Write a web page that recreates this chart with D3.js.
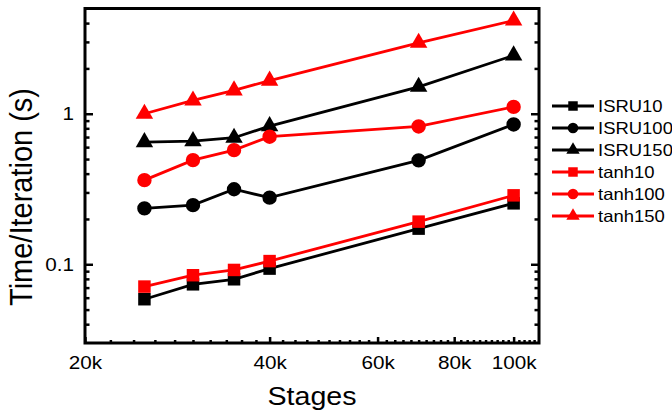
<!DOCTYPE html>
<html>
<head>
<meta charset="utf-8">
<script src="https://cdn.jsdelivr.net/npm/d3@7"></script>
<style>
  body { margin: 0; background: #fff; }
  svg text { font-family: "Liberation Sans", Arial, sans-serif; fill: #000; }
</style>
</head>
<body>
<div id="chart"></div>
<script>
// Stages (x) shared by every series
var stages = [25000, 30000, 35000, 40000, 70000, 100000];

// Time per iteration (s)
var isru10  = [0.0586, 0.0736, 0.0795, 0.0936, 0.1725, 0.254];
var isru100 = [0.235, 0.247, 0.315, 0.277, 0.49, 0.849];
var isru150 = [0.648, 0.658, 0.693, 0.827, 1.51, 2.44];
var tanh10  = [0.0711, 0.0846, 0.0917, 0.105, 0.192, 0.287];
var tanh100 = [0.362, 0.492, 0.573, 0.704, 0.823, 1.11];
var tanh150 = [1.0, 1.225, 1.43, 1.66, 2.96, 4.16];

var seriesNames = ["ISRU10", "ISRU100", "ISRU150", "tanh10", "tanh100", "tanh150"];

// Tick values
var xMajorTicks = [20000, 40000, 60000, 80000, 100000];
var xTickLabels = ["20k", "40k", "60k", "80k", "100k"];
var xMinorTicks = [22000, 24000, 26000, 28000, 30000, 32000, 34000, 36000, 38000,
                   42000, 44000, 46000, 48000, 50000, 52000, 54000, 56000, 58000,
                   62000, 64000, 66000, 68000, 70000, 72000, 74000, 76000, 78000,
                   82000, 84000, 86000, 88000, 90000, 92000, 94000, 96000, 98000,
                   102000, 104000, 106000, 108000];
var yMajorTicks = [0.1, 1];
var yTickLabels = ["0.1", "1"];
var yMinorTicks = [0.04, 0.05, 0.06, 0.07, 0.08, 0.09,
                   0.2, 0.3, 0.4, 0.5, 0.6, 0.7, 0.8, 0.9,
                   2, 3, 4];

var series = [
    {name: seriesNames[0], values: isru10,  color: "#000", shape: "square"},
    {name: seriesNames[1], values: isru100, color: "#000", shape: "circle"},
    {name: seriesNames[2], values: isru150, color: "#000", shape: "triangle"},
    {name: seriesNames[3], values: tanh10,  color: "#f00", shape: "square"},
    {name: seriesNames[4], values: tanh100, color: "#f00", shape: "circle"},
    {name: seriesNames[5], values: tanh150, color: "#f00", shape: "triangle"}
];

var width = 672, height = 415;
var plot = {left: 85, right: 539, top: 8.5, bottom: 343};

var x = d3.scaleLog().domain([20000, 110000]).range([plot.left, plot.right]);
var y = d3.scaleLog().domain([0.03, 5]).range([plot.bottom, plot.top]);

var svg = d3.select("#chart").append("svg")
    .attr("width", width)
    .attr("height", height);

// Marker shapes (big in the plot, small in the legend)
var symbolType = {square: d3.symbolSquare, circle: d3.symbolCircle, triangle: d3.symbolTriangle};
var plotSize = {square: 156, circle: 163, triangle: 132};
var legendSize = {square: 90, circle: 88, triangle: 78};

// Axes: ticks point inwards, no domain path (frame drawn separately)
function styleAxis(g) {
    g.select(".domain").remove();
    g.selectAll("line").attr("stroke", "#000").attr("stroke-width", 2.5);
}

svg.append("g")
    .attr("transform", "translate(" + plot.left + ",0)")
    .call(d3.axisLeft(y).tickValues(yMinorTicks).tickSize(-4.5).tickFormat(""))
    .call(styleAxis);

svg.append("g")
    .attr("transform", "translate(" + plot.left + ",0)")
    .call(d3.axisLeft(y).tickValues(yMajorTicks).tickSize(-8).tickPadding(9.5)
        .tickFormat(function(d, i) { return yTickLabels[i]; }))
    .call(styleAxis)
    .selectAll("text")
    .style("font-size", "18px")
    .attr("transform", "scale(1.15,1)");

svg.append("g")
    .attr("transform", "translate(" + plot.right + ",0)")
    .call(d3.axisRight(y).tickValues(yMinorTicks).tickSize(-4.5).tickFormat(""))
    .call(styleAxis);

svg.append("g")
    .attr("transform", "translate(" + plot.right + ",0)")
    .call(d3.axisRight(y).tickValues(yMajorTicks).tickSize(-8).tickFormat(""))
    .call(styleAxis);

svg.append("g")
    .attr("transform", "translate(0," + plot.bottom + ")")
    .call(d3.axisBottom(x).tickValues(xMinorTicks).tickSize(-3).tickFormat(""))
    .call(styleAxis);

svg.append("g")
    .attr("transform", "translate(0," + plot.bottom + ")")
    .call(d3.axisBottom(x).tickValues(xMajorTicks).tickSize(-6).tickPadding(13)
        .tickFormat(function(d, i) { return xTickLabels[i]; }))
    .call(styleAxis)
    .selectAll("text")
    .style("font-size", "18px")
    .attr("transform", "scale(1.15,1)");

// Frame
svg.append("rect")
    .attr("x", plot.left)
    .attr("y", plot.top)
    .attr("width", plot.right - plot.left)
    .attr("height", plot.bottom - plot.top)
    .attr("fill", "none")
    .attr("stroke", "#000")
    .attr("stroke-width", 3);

// Axis titles
svg.append("text")
    .attr("transform", "translate(" + ((plot.left + plot.right) / 2) + ",405) scale(1.1,1)")
    .attr("text-anchor", "middle")
    .style("font-size", "26px")
    .text("Stages");

svg.append("text")
    .attr("transform", "translate(32,197) scale(1.1,1) rotate(-90)")
    .attr("text-anchor", "middle")
    .style("font-size", "29px")
    .text("Time/Iteration (s)");

// Lines and markers
var line = d3.line()
    .x(function(d, i) { return x(stages[i]); })
    .y(function(d) { return y(d); });

series.forEach(function(s) {
    var g = svg.append("g");
    g.append("path")
        .attr("d", line(s.values))
        .attr("fill", "none")
        .attr("stroke", s.color)
        .attr("stroke-width", 2.8);

    g.selectAll("path.marker")
        .data(s.values)
        .enter().append("path")
        .attr("class", "marker")
        .attr("d", d3.symbol().type(symbolType[s.shape]).size(plotSize[s.shape]))
        .attr("transform", function(d, i) {
            return "translate(" + x(stages[i]) + "," + y(d) + ")";
        })
        .attr("fill", s.color);
});

// Legend
var legend = svg.append("g").attr("class", "legend");
var legendRow = d3.scaleLinear().domain([0, 1]).range([106, 128]);

series.forEach(function(s, i) {
    var ly = legendRow(i);
    legend.append("line")
        .attr("x1", 552).attr("x2", 594)
        .attr("y1", ly).attr("y2", ly)
        .attr("stroke", s.color)
        .attr("stroke-width", 2.8);
    legend.append("path")
        .attr("d", d3.symbol().type(symbolType[s.shape]).size(legendSize[s.shape]))
        .attr("transform", "translate(573," + ly + ")")
        .attr("fill", s.color);
    legend.append("text")
        .attr("transform", "translate(598," + (ly + 6) + ") scale(1.12,1)")
        .style("font-size", "16.5px")
        .text(s.name);
});
</script>
</body>
</html>
